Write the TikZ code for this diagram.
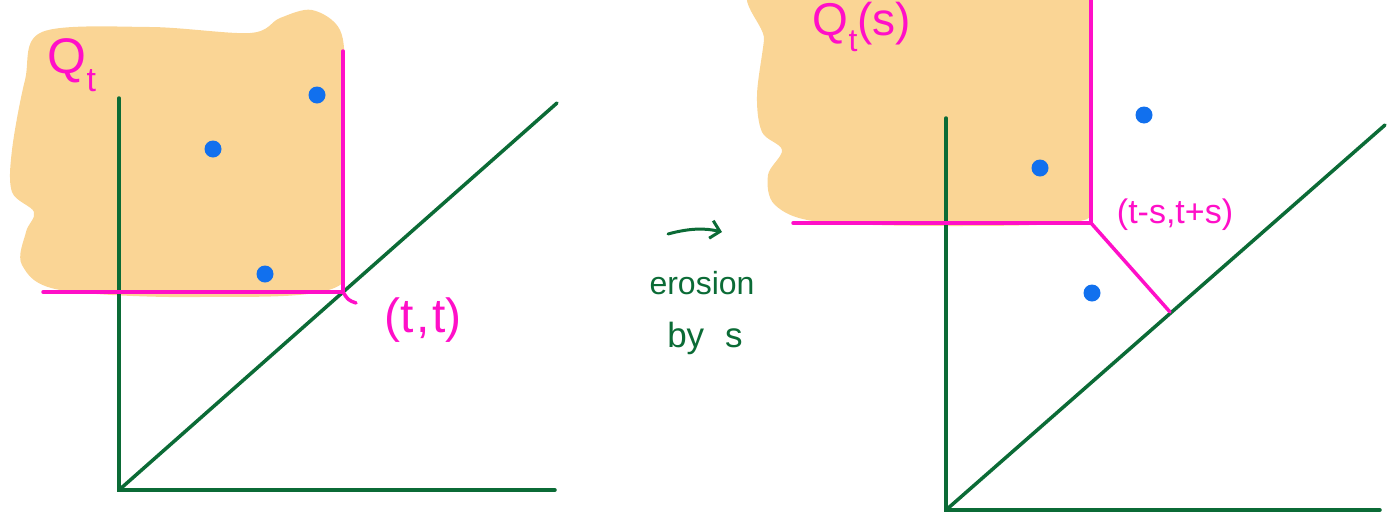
\documentclass[tikz,border=0pt]{standalone}
\usepackage{fontspec}
\setmainfont{Liberation Sans}
\usetikzlibrary{arrows.meta}
\definecolor{blobc}{HTML}{FAD595}
\definecolor{magc}{HTML}{FF0FC8}
\definecolor{greenc}{HTML}{0B6B36}
\definecolor{dotc}{HTML}{1170EE}
\tikzset{
  axis/.style={draw=greenc, line width=3.5pt, line cap=round},
  mag/.style={draw=magc, line width=3.5pt, line cap=round, line join=round},
  dotp/.style={circle, fill=dotc, inner sep=0pt, minimum size=17pt},
  maglabel/.style={text=magc, inner sep=0pt},
  greenlabel/.style={text=greenc, inner sep=0pt},
}
\begin{document}
\begin{tikzpicture}[x=1pt,y=-1pt]
\useasboundingbox (0,0) rectangle (1395,512);
% ---------- left panel ----------
\begin{scope}
\clip (0,0) rectangle (344,300);
\fill[blobc] plot[smooth cycle, tension=0.55] coordinates {
 (42,32) (150,27) (250,33) (280,18) (312,10) (340,30) (345,80) (345,200)
 (340,285) (200,297) (60,290) (22,265) (26,232) (34,212) (12,192) (12,150) (25,80)};
\end{scope}
\coordinate (o1) at (119,490);
\coordinate (y1) at (119,98);
\coordinate (x1) at (555,490);
\coordinate (d1) at (557,103);
\draw[axis] (y1) -- (o1) -- (x1);
\draw[axis] (o1) -- (d1);
\coordinate (c1) at (343,292);
\coordinate (v1) at (343,51);
\coordinate (h1) at (43,292);
\coordinate (k1) at (356,303);
\draw[mag] (v1) -- (c1) -- (h1);
\draw[mag] (c1) .. controls (348,300) .. (k1);
\node[dotp] (p1) at (317,95) {};
\node[dotp] (p2) at (213,149) {};
\node[dotp] (p3) at (265,274) {};
\node[maglabel, font=\fontsize{50}{50}\selectfont] (q1) at (72,65) {Q\raisebox{-0.35em}{\fontsize{34}{34}\selectfont t}};
\node[maglabel, font=\fontsize{48}{48}\selectfont] (tt) at (423,320) {(t\hspace{0.06em},\hspace{0.06em}t)};
% ---------- middle ----------
\coordinate (a1) at (668,234);
\coordinate (a2) at (722,232);
\draw[draw=greenc, line width=3pt, line cap=round, -{Straight Barb[length=9pt,width=18pt,line width=3pt]}] (a1) .. controls (690,228) and (705,228) .. (a2);
\node[greenlabel, font=\fontsize{32}{32}\selectfont] (er) at (702,283) {erosion};
\node[greenlabel, font=\fontsize{35}{35}\selectfont] (by) at (705,338) {by\hspace{0.6em}s};
% ---------- right panel ----------
\begin{scope}
\clip (740,0) rectangle (1090,240);
\fill[blobc] plot[smooth cycle, tension=0.55] coordinates {
 (770,-20) (1092,-20) (1092,100) (1090,200) (1075,222) (950,226) (820,222)
 (775,205) (768,175) (782,150) (762,132) (757,95) (764,40)};
\end{scope}
\coordinate (o2) at (946,510);
\coordinate (y2) at (946,118);
\coordinate (x2) at (1380,510);
\coordinate (d2) at (1385,125);
\draw[axis] (y2) -- (o2) -- (x2);
\draw[axis] (o2) -- (d2);
\coordinate (c2) at (1091,223);
\coordinate (v2) at (1091,-5);
\coordinate (h2) at (793,223);
\coordinate (e2) at (1170,312);
\draw[mag] (v2) -- (c2) -- (h2);
\draw[mag] (c2) -- (e2);
\node[dotp] (r1) at (1144,115) {};
\node[dotp] (r2) at (1040,168) {};
\node[dotp] (r3) at (1092,293) {};
\node[maglabel, font=\fontsize{46}{46}\selectfont] (q2) at (862,27) {Q\raisebox{-0.35em}{\fontsize{32}{32}\selectfont t}(s)};
\node[maglabel, font=\fontsize{34}{34}\selectfont] (ts) at (1175,215) {(t-s,t+s)};
\end{tikzpicture}
\end{document}
